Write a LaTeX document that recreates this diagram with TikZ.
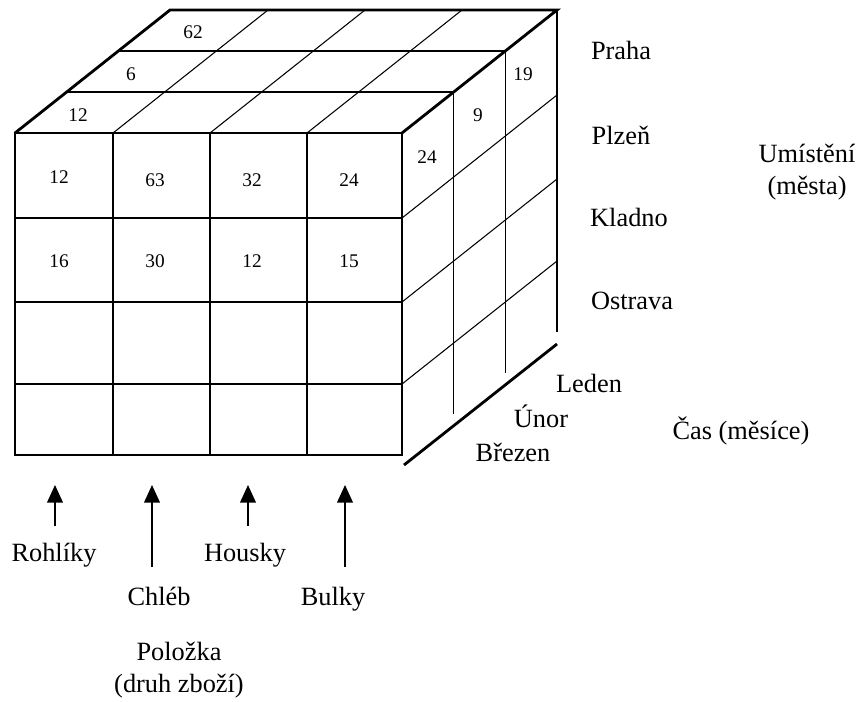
\documentclass[tikz,border=0pt]{standalone}
\usepackage{fontspec}
\setmainfont{Liberation Serif}
\usetikzlibrary{arrows.meta}

\tikzset{
	edge/.style={line width=1.6pt},
	cell/.style={line width=0.6pt},
	num/.style={font=\fontsize{11}{13}\selectfont, inner sep=0pt},
	lab/.style={font=\fontsize{15}{18}\selectfont, inner sep=0pt, align=center},
	pointer/.style={line width=0.7pt, -{Triangle[length=10pt,width=9pt]}}
}

\begin{document}
\begin{tikzpicture}[x=0.02cm,y=-0.02cm]
	\useasboundingbox (0,0) rectangle (861,701);
	%front face grid
	\foreach \x in {113,210,307} \draw[cell] (\x,133) -- (\x,455);
	\foreach \y in {218,302,384} \draw[cell] (15,\y) -- (402,\y);
	%top face
	\foreach \x in {113,210,307} \draw[cell] (\x,133) -- ++(155,-123);
	\foreach \k in {1,2} \draw[cell] ({15+51.7*\k},{133-41*\k}) -- ++(387,0) -- ++(0,322);
	%right face
	\foreach \y in {218,302,384} \draw[cell] (402,\y) -- ++(155,-123);
	%outline
	\draw[edge] (15,133) rectangle (402,455);
	\draw[edge] (15,133) -- ++(155,-123) -- (557,10) -- (402,133);
	\draw[edge] (557,10) -- (557,332);
	\draw[edge] (404,465) -- (557,344);

	%values on the front
	\node[num] (f11) at (59,177) {12};
	\node[num] (f12) at (155,180) {63};
	\node[num] (f13) at (252,180) {32};
	\node[num] (f14) at (349,180) {24};
	\node[num] (f21) at (59,261) {16};
	\node[num] (f22) at (155,261) {30};
	\node[num] (f23) at (252,261) {12};
	\node[num] (f24) at (349,261) {15};
	%values on top and side
	\node[num] (t1) at (78,115) {12};
	\node[num] (t2) at (131,74) {6};
	\node[num] (t3) at (193,32) {62};
	\node[num] (r1) at (427,157) {24};
	\node[num] (r2) at (478,115) {9};
	\node[num] (r3) at (523,74) {19};

	%cities
	\node[lab] (praha) at (621,50) {Praha};
	\node[lab] (plzen) at (621,135) {Plzeň};
	\node[lab] (kladno) at (629,217) {Kladno};
	\node[lab] (ostrava) at (632,301) {Ostrava};
	\node[lab] (mesta) at (807,172) {Umístění\\(města)};
	%months
	\node[lab] (leden) at (589,383) {Leden};
	\node[lab] (unor) at (541,416) {Únor};
	\node[lab] (brezen) at (513,452) {Březen};
	\node[lab] (cas) at (741,431) {Čas (měsíce)};
	%goods
	\node[lab,anchor=base] (rohliky) at (54,561) {Rohlíky};
	\node[lab,anchor=base] (chleb) at (159,605) {Chléb};
	\node[lab,anchor=base] (housky) at (245,561) {Housky};
	\node[lab,anchor=base] (bulky) at (333,605) {Bulky};
	\node[lab] (polozka) at (179,670) {Položka\\(druh zboží)};
	\foreach \x/\y [count=\i] in {55/526,152/567,248/526,345/567} {
		\coordinate (foot\i) at (\x,\y);
		\coordinate (tip\i) at (\x,485);
		\draw[pointer] (foot\i) -- (tip\i);
	}
\end{tikzpicture}
\end{document}
